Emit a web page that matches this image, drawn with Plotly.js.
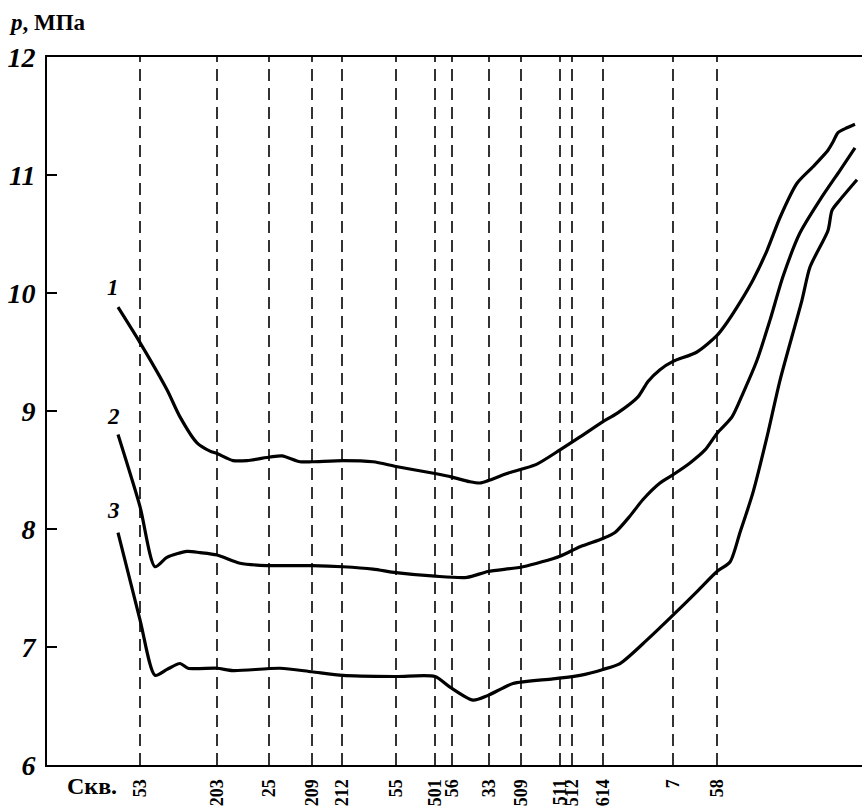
<!DOCTYPE html>
<html>
<head>
<meta charset="utf-8">
<script src="https://cdn.plot.ly/plotly-3.0.1.min.js"></script>
<style>html,body{margin:0;padding:0;background:#fff;}#chart{width:862px;height:810px;}</style>
</head>
<body>
<div id="chart"></div>
<script>
// Well names and their positions along the profile
const wellNames = ["53","203","25","209","212","55","501","56","33","509","511","512","614","7","58"];
const wellPos   = [93,170,222,265,295,349,388,405,442,474,513,525,556,626,670];

// Curve 1
const x1 = [71,93,120,133,150,163,170,186,200,223,235,253,265,296,326,349,388,405,423,433,441,460,476,490,513,533,556,570,591,601,613,626,650,670,680,693,706,720,733,750,766,781,786,791,800,808];
const y1 = [9.88,9.58,9.18,8.95,8.73,8.66,8.64,8.58,8.58,8.61,8.62,8.57,8.57,8.58,8.57,8.53,8.47,8.44,8.40,8.39,8.41,8.47,8.51,8.55,8.67,8.78,8.91,8.98,9.12,9.25,9.35,9.42,9.50,9.64,9.75,9.92,10.11,10.36,10.64,10.93,11.07,11.21,11.28,11.36,11.40,11.43];

// Curve 2
const x2 = [71,93,108,120,140,153,170,193,220,265,296,326,349,388,420,441,476,513,533,556,568,583,596,613,626,643,658,670,685,696,710,723,736,753,773,793,808];
const y2 = [8.80,8.19,7.68,7.76,7.81,7.80,7.78,7.71,7.69,7.69,7.68,7.66,7.63,7.60,7.59,7.64,7.68,7.77,7.85,7.92,7.97,8.11,8.25,8.39,8.46,8.56,8.67,8.81,8.95,9.15,9.43,9.77,10.14,10.51,10.79,11.04,11.23];

// Curve 3
const x3 = [71,93,108,120,133,141,170,186,233,265,296,349,388,403,426,441,466,506,533,556,573,600,626,650,670,683,693,706,720,733,755,763,781,785,793,810];
const y3 = [7.97,7.23,6.76,6.81,6.86,6.82,6.82,6.80,6.82,6.79,6.76,6.75,6.75,6.66,6.55,6.59,6.69,6.73,6.76,6.81,6.86,7.06,7.27,7.47,7.64,7.72,7.97,8.31,8.78,9.26,9.94,10.22,10.53,10.70,10.79,10.96];

const curveLabels = ["1","2","3"];
const labelX = [66,66,66];
const labelY = [10.05,8.95,8.16];

const serif = 'Liberation Serif, Times New Roman, serif';

const traces = [];
// dashed well lines
wellPos.forEach(function(p){
  traces.push({x:[p,p], y:[6,12], mode:'lines', type:'scatter', hoverinfo:'skip', showlegend:false,
    line:{color:'#000', width:1.6, dash:'12px,7px'}});
});
[[x1,y1],[x2,y2],[x3,y3]].forEach(function(c){
  traces.push({x:c[0], y:c[1], mode:'lines', type:'scatter', showlegend:false,
    line:{color:'#000', width:3.2, shape:'spline', smoothing:0.7}});
});

const annotations = curveLabels.map(function(t,i){
  return {x:labelX[i], y:labelY[i], xref:'x', yref:'y', text:'<b><i>'+t+'</i></b>', showarrow:false,
    font:{family:serif, size:23, color:'#000'}};
});
annotations.push({xref:'paper', yref:'paper', x:-0.049, y:1.0, xanchor:'left', yanchor:'bottom', yshift:20,
  text:'<b><i>p</i>, МПа</b>', showarrow:false,
  font:{family:serif, size:23, color:'#000'}});
annotations.push({xref:'paper', yref:'paper', x:0.022, y:0, xanchor:'left', yanchor:'top', yshift:-6,
  text:'<b>Скв.</b>', showarrow:false,
  font:{family:serif, size:24, color:'#000'}});

const layout = {
  width:862, height:810,
  margin:{l:47, r:0, t:57, b:45},
  paper_bgcolor:'#fff', plot_bgcolor:'#fff',
  showlegend:false,
  xaxis:{range:[0,815], showgrid:false, zeroline:false, showline:true, linecolor:'#000', linewidth:2, mirror:true,
    tickmode:'array', tickvals:wellPos, ticktext:wellNames.map(function(s){return '<b>'+s+'</b>';}), tickangle:-90, ticks:'',
    ticklabelstandoff:5,
    tickfont:{family:serif, size:18, color:'#000'}},
  yaxis:{range:[6,12], showgrid:false, zeroline:false, showline:true, linecolor:'#000', linewidth:2,
    tickmode:'array', tickvals:[6,7,8,9,10,11,12], ticktext:['6','7','8','9','10','11','12'].map(function(s){return '<b><i>'+s+'</i></b>';}),
    ticks:'inside', ticklen:10, tickwidth:1.5, tickcolor:'#000', ticklabelstandoff:4,
    tickfont:{family:serif, size:28, color:'#000'}},
  annotations:annotations
};

Plotly.newPlot('chart', traces, layout, {staticPlot:true, displayModeBar:false});
</script>
</body>
</html>
